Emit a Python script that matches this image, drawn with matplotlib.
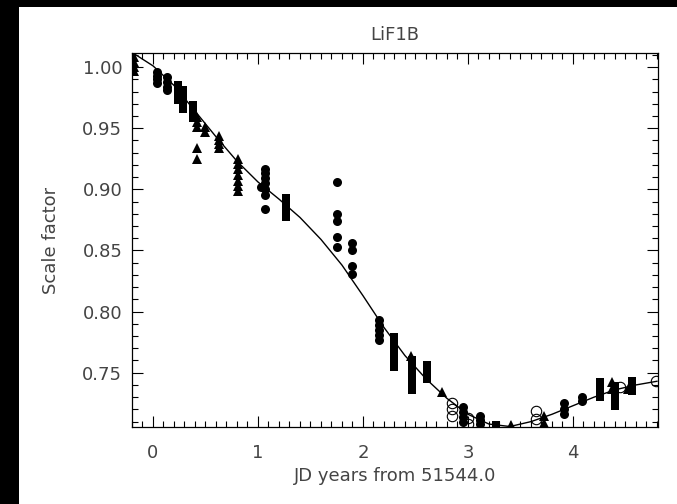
import matplotlib
matplotlib.use('Agg')
import matplotlib.pyplot as plt
from matplotlib.patches import Rectangle
from matplotlib.ticker import MultipleLocator

# Filled circles
circ_x = [0.04, 0.04, 0.04, 0.04, 0.13, 0.13, 0.13, 0.13,
          1.07, 1.07, 1.07, 1.07, 1.07, 1.07, 1.07, 1.03,
          1.75, 1.75, 1.75, 1.75, 1.75, 1.90, 1.90, 1.90, 1.90,
          2.15, 2.15, 2.15, 2.15, 2.15,
          2.95, 2.95, 2.95, 2.95, 3.11, 3.11, 3.11,
          3.91, 3.91, 3.91, 4.09, 4.09]
circ_y = [0.996, 0.993, 0.990, 0.987, 0.992, 0.988, 0.984, 0.981,
          0.917, 0.913, 0.909, 0.905, 0.900, 0.895, 0.884, 0.902,
          0.906, 0.880, 0.874, 0.861, 0.853, 0.856, 0.850, 0.837, 0.831,
          0.793, 0.789, 0.785, 0.781, 0.777,
          0.722, 0.718, 0.714, 0.710, 0.715, 0.711, 0.708,
          0.725, 0.720, 0.716, 0.730, 0.727]

# Filled squares
sq_x = [0.24, 0.24, 0.24, 0.24, 0.29, 0.29, 0.29, 0.29, 0.29,
        0.38, 0.38, 0.38, 0.38, 1.27, 1.27, 1.27, 1.27, 1.27,
        2.30, 2.30, 2.30, 2.30, 2.30, 2.30, 2.30,
        2.47, 2.47, 2.47, 2.47, 2.47, 2.47, 2.47,
        2.61, 2.61, 2.61, 2.61, 3.27,
        4.26, 4.26, 4.26, 4.26, 4.40, 4.40, 4.40, 4.40, 4.40,
        4.56, 4.56, 4.56]
sq_y = [0.985, 0.981, 0.977, 0.973, 0.981, 0.977, 0.973, 0.969, 0.966,
        0.969, 0.965, 0.961, 0.958, 0.893, 0.889, 0.885, 0.881, 0.877,
        0.779, 0.775, 0.771, 0.767, 0.763, 0.759, 0.755,
        0.760, 0.756, 0.752, 0.748, 0.744, 0.740, 0.736,
        0.756, 0.752, 0.748, 0.745, 0.707,
        0.742, 0.738, 0.734, 0.730, 0.739, 0.735, 0.731, 0.727, 0.723,
        0.743, 0.739, 0.735]

# Filled triangles
tri_x = [-0.18, -0.18, -0.18, -0.18, 0.42, 0.42, 0.42, 0.50, 0.50,
         0.42, 0.42, 0.63, 0.63, 0.63, 0.63,
         0.81, 0.81, 0.81, 0.81, 0.81, 0.81, 0.81,
         2.46, 2.75, 3.41, 3.72, 3.72, 4.37, 4.37, 4.52]
tri_y = [1.008, 1.004, 1.000, 0.997, 0.959, 0.955, 0.951, 0.951, 0.947,
         0.934, 0.925, 0.944, 0.940, 0.937, 0.934,
         0.925, 0.921, 0.917, 0.912, 0.907, 0.903, 0.899,
         0.764, 0.734, 0.707, 0.715, 0.709, 0.742, 0.737, 0.737]

# Open circles
open_x = [2.85, 2.85, 2.85, 3.00, 3.00, 3.65, 3.65, 4.45, 4.79]
open_y = [0.725, 0.720, 0.715, 0.713, 0.708, 0.719, 0.712, 0.738, 0.743]

# Fitted curve
fit_x = [-0.2, 0.0, 0.2, 0.4, 0.6, 0.8, 1.0, 1.2, 1.4, 1.6, 1.8, 2.0, 2.2,
         2.4, 2.6, 2.8, 3.0, 3.2, 3.4, 3.6, 3.8, 4.0, 4.2, 4.4, 4.6, 4.8]
fit_y = [1.012, 1.001, 0.985, 0.964, 0.943, 0.923, 0.906, 0.892, 0.877,
         0.859, 0.838, 0.813, 0.787, 0.764, 0.745, 0.729, 0.716, 0.708,
         0.706, 0.710, 0.716, 0.723, 0.730, 0.736, 0.740, 0.743]

txt = '#444444'
fig = plt.figure(figsize=(6.77, 5.04), dpi=100, facecolor='black')
fig.patches.append(Rectangle((19 / 677, 0), 1, 1 - 7 / 504, transform=fig.transFigure,
                             facecolor='white', edgecolor='none', zorder=-1))
ax = fig.add_axes([132 / 677, 1 - 427 / 504, (658 - 132) / 677, (427 - 53) / 504])

ax.plot(fit_x, fit_y, color='black', lw=1.0)
ax.plot(circ_x, circ_y, 'o', color='black', ms=6.5, mew=0)
ax.plot(sq_x, sq_y, 's', color='black', ms=6.3, mew=0)
ax.plot(tri_x, tri_y, '^', color='black', ms=7.2, mew=0)
ax.plot(open_x, open_y, 'o', mfc='none', mec='black', ms=7.5, mew=0.8)

ax.set_xlim(-0.2, 4.81)
ax.set_ylim(0.7056, 1.0115)
ax.xaxis.set_major_locator(MultipleLocator(1))
ax.xaxis.set_minor_locator(MultipleLocator(0.1))
ax.yaxis.set_major_locator(MultipleLocator(0.05))
ax.yaxis.set_minor_locator(MultipleLocator(0.01))
ax.yaxis.set_major_formatter(plt.FormatStrFormatter('%.2f'))
ax.tick_params(which='both', direction='in', top=True, right=True, width=0.8,
               colors='black', labelcolor=txt, labelsize=13)
ax.tick_params(which='major', length=8)
ax.tick_params(which='minor', length=4)
ax.tick_params(axis='x', pad=12)
ax.tick_params(axis='y', pad=7)
for s in ax.spines.values():
    s.set_linewidth(0.9)

ax.set_title('LiF1B', fontsize=13, color=txt, pad=9)
ax.set_xlabel('JD years from 51544.0', fontsize=13, color=txt, labelpad=4)
ax.set_ylabel('Scale factor', fontsize=13, color=txt, labelpad=16)

fig.savefig('out.png', dpi=100, facecolor=fig.get_facecolor())
